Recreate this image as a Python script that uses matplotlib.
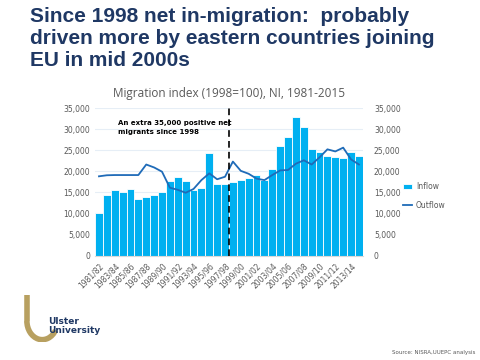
import matplotlib.pyplot as plt
import numpy as np
from matplotlib.patches import Arc

years = [f"{y}/{str(y + 1)[2:]}" for y in range(1981, 2015)]

inflow = [10000, 14400, 15550, 15100, 15850, 13500, 13900, 14400, 15100, 17600,
          18550, 17600, 15500, 16100, 24300, 17000, 17000, 17500, 17950, 18300,
          19050, 17950, 20450, 25900, 28200, 32800, 30400, 25250, 24650, 23700,
          23300, 23150, 24550, 23600]

outflow = [18800, 19050, 19100, 19100, 19100, 19100, 21600, 20900, 19900, 16100,
           15600, 14900, 15800, 17900, 19500, 18100, 18700, 22300, 20100, 19400,
           18250, 17900, 19100, 20200, 20300, 21800, 22600, 21600, 23300, 25200,
           24700, 25600, 22800, 21600]

navy = '#1F3864'
grey = '#595959'

fig = plt.figure(figsize=(4.8, 3.6), dpi=100)

fig.text(0.0625, 0.98, "Since 1998 net in-migration:  probably\n"
         "driven more by eastern countries joining\nEU in mid 2000s",
         ha='left', va='top', fontsize=15, fontweight='bold', color=navy,
         family='Liberation Sans', linespacing=1.2)

ax = fig.add_axes([0.198, 0.29, 0.558, 0.41])
x = np.arange(len(years))
bars = ax.bar(x, inflow, width=1.0, color='#00B0F0', edgecolor='white',
              linewidth=0.6, label='Inflow', zorder=2)
line, = ax.plot(x, outflow, color='#1F6BB8', linewidth=1.3, label='Outflow',
                zorder=3)
ax.axvline(16.5, color='black', linestyle=(0, (4, 2.5)), linewidth=1.2, zorder=4)

ax.set_xlim(-0.5, len(years) - 0.5)
ax.set_ylim(0, 35000)
yt = np.arange(0, 35001, 5000)
ax.set_yticks(yt)
ax.set_yticklabels([f"{v:,}" for v in yt])
ax.set_xticks(x[::2])
ax.set_xticklabels(years[::2], rotation=45, ha='right', rotation_mode='anchor')
ax.tick_params(axis='both', labelsize=5.5, colors=grey, length=0)
ax.tick_params(axis='x', pad=4)
ax.grid(axis='y', color='#E6EEF6', linewidth=0.8, zorder=0)
ax.set_axisbelow(True)
for s in ['top', 'left', 'right']:
    ax.spines[s].set_visible(False)
ax.spines['bottom'].set_color('#D9D9D9')

ax2 = ax.twinx()
ax2.set_ylim(0, 35000)
ax2.set_yticks(yt)
ax2.set_yticklabels([f"{v:,}" for v in yt])
ax2.tick_params(axis='y', labelsize=5.5, colors=grey, length=0, pad=8)
for s in ax2.spines.values():
    s.set_visible(False)

ax.set_title("Migration index (1998=100), NI, 1981-2015", fontsize=8.5,
             color=grey, family='Open Sans', pad=8)
ax.text(2.4, 32200, "An extra 35,000 positive net\nmigrants since 1998",
        fontsize=5, fontweight='bold', color='black', va='top', ha='left',
        linespacing=1.6)

fig.legend([bars, line], ['Inflow', 'Outflow'], loc='center left',
           bbox_to_anchor=(0.825, 0.455), frameon=False,
           fontsize=5.5, handlelength=1.2, labelspacing=1.3, handletextpad=0.5,
           labelcolor=grey)

# logo
logo = fig.add_axes([0.04, 0.05, 0.08, 0.13])
logo.set_xlim(0, 1)
logo.set_ylim(0, 1)
logo.axis('off')
logo.add_patch(Arc((0.6, 0.45), 0.8, 0.8, theta1=180, theta2=330,
                   color='#B8A060', linewidth=4))
logo.plot([0.2, 0.2], [0.45, 1.0], color='#B8A060', linewidth=4,
          solid_capstyle='butt')
fig.text(0.1, 0.095, "Ulster\nUniversity", fontsize=6.5, fontweight='bold',
         color=navy, va='center', ha='left', linespacing=0.95)

fig.text(0.99, 0.015, "Source: NISRA,UUEPC analysis", fontsize=4, color=grey,
         ha='right', va='bottom')

fig.savefig('out.png', dpi=100)
